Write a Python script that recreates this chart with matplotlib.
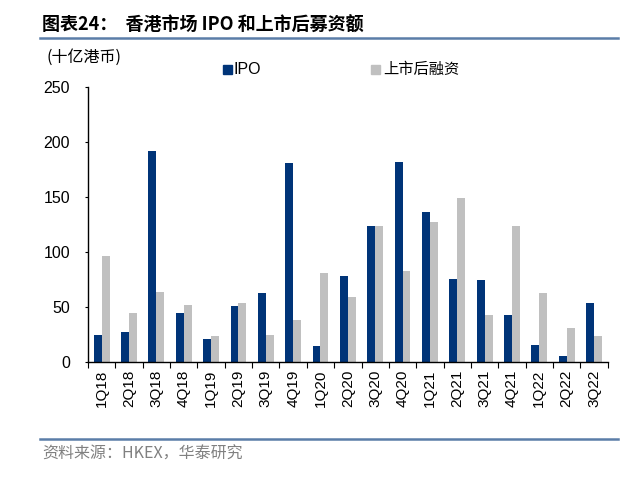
import matplotlib
matplotlib.use("Agg")
import matplotlib.pyplot as plt
import numpy as np
from matplotlib.patches import Rectangle
from matplotlib.lines import Line2D

quarters = ["1Q18", "2Q18", "3Q18", "4Q18", "1Q19", "2Q19", "3Q19", "4Q19",
            "1Q20", "2Q20", "3Q20", "4Q20", "1Q21", "2Q21", "3Q21", "4Q21",
            "1Q22", "2Q22", "3Q22"]
ipo = [24.2, 27, 191.5, 44.5, 20.9, 50.3, 62.1, 180.3, 13.9, 78.2,
       123, 181.5, 136.4, 74.8, 73.9, 42.7, 14.8, 4.8, 53.3]
follow_on = [96.4, 44.2, 63, 51.5, 23.6, 53.3, 24.2, 37.9, 80.6, 58.5,
             123.3, 82.7, 127, 148.5, 42.7, 123, 62.7, 30.9, 23.6]

navy = "#003478"
grey = "#C0C0C0"
rule = "#5B7DA8"
cjk = ["Noto Sans CJK SC", "DejaVu Sans"]
latin = ["Liberation Sans", "Noto Sans CJK SC"]

W, H = 636, 483
fig = plt.figure(figsize=(W / 100, H / 100), dpi=100)
ax = fig.add_axes([88 / W, 1 - 361.7 / H, (607.7 - 88) / W, (361.7 - 86.7) / H])

x = np.arange(len(quarters))
w = 0.29
ax.bar(x - w / 2, ipo, width=w, color=navy, label="IPO")
ax.bar(x + w / 2, follow_on, width=w, color=grey, label="上市后融资")

ax.set_xlim(-0.5, len(quarters) - 0.5)
ax.set_ylim(0, 250)
ax.set_yticks([0, 50, 100, 150, 200, 250])
for s in ["top", "right"]:
    ax.spines[s].set_visible(False)
for s in ["left", "bottom"]:
    ax.spines[s].set_linewidth(1.0)
    ax.spines[s].set_color("black")

# ticks at category boundaries, labels at centres
ax.set_xticks(np.arange(len(quarters) + 1) - 0.5)
ax.set_xticklabels([])
ax.set_xticks(x, minor=True)
ax.set_xticklabels(quarters, minor=True, rotation=90, fontsize=11, family=latin)
ax.tick_params(axis="x", which="minor", length=0, pad=6)
ax.tick_params(axis="x", which="major", direction="out", length=4)
ax.tick_params(axis="y", direction="out", length=2.5, pad=10.5)
for lab in ax.get_yticklabels():
    lab.set_fontfamily(latin)
    lab.set_fontsize(11.5)

# title block
fig.text(42 / W, 1 - 25 / H, "图表24：  香港市场 IPO 和上市后募资额", fontsize=13,
         fontweight="bold", family=cjk, va="center", ha="left")
fig.add_artist(Line2D([40 / W, 618 / W], [1 - 37.7 / H, 1 - 37.7 / H],
                      color=rule, lw=1.8))
fig.text(46 / W, 1 - 57 / H, "(十亿港币)", fontsize=11.5, family=cjk,
         va="center", ha="left")

# legend
fig.add_artist(Rectangle((223 / W, 1 - 73.5 / H), 8.5 / W, 8.5 / H,
                         color=navy, transform=fig.transFigure))
fig.text(234 / W, 1 - 69.5 / H, "IPO", fontsize=11.5, family=latin,
         va="center", ha="left")
fig.add_artist(Rectangle((371 / W, 1 - 73.5 / H), 8.5 / W, 8.5 / H,
                         color=grey, transform=fig.transFigure))
fig.text(383 / W, 1 - 69.5 / H, "上市后融资", fontsize=11, family=cjk,
         va="center", ha="left")

# source block
fig.add_artist(Line2D([40 / W, 618 / W], [1 - 439 / H, 1 - 439 / H],
                      color=rule, lw=1.8))
fig.text(42 / W, 1 - 454 / H, "资料来源：HKEX，华泰研究", fontsize=11.5,
         family=cjk, color="#808080", va="center", ha="left")

fig.savefig("out.png", dpi=100)
